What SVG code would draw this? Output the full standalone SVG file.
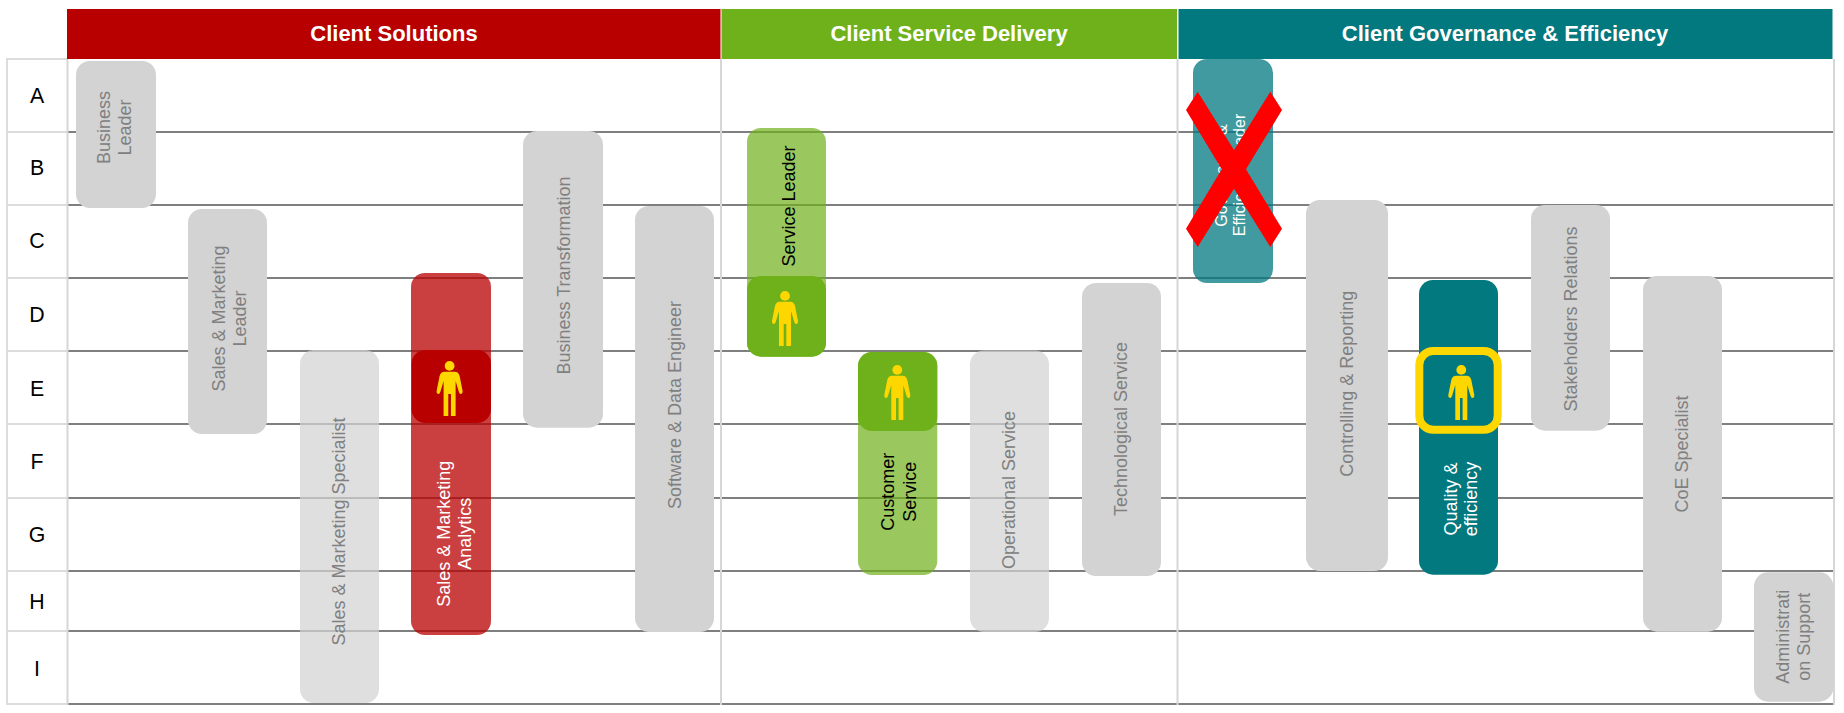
<svg xmlns="http://www.w3.org/2000/svg" width="1844" height="713" viewBox="0 0 1844 713">
<style>
text{font-family:"Liberation Sans",Arial,sans-serif}
.hd{font-size:22px;font-weight:bold;fill:#fff;text-anchor:middle}
.rl{font-size:21.3px;fill:#000;text-anchor:middle}
.t{font-size:18px;text-anchor:middle}
.g{fill:#808080}.w{fill:#fff}.k{fill:#000}
.cell{fill:none;stroke:#dcdcdc;stroke-width:2}
.h{stroke:#7f7f7f;stroke-width:2}
.v{stroke:#d6d6d6;stroke-width:2}
.gray{fill:#d3d3d3}
.pale{fill:#d3d3d3;opacity:.72}
.ic{fill:#ffd700}
</style>
<defs>
<g id="person"><circle cx="0" cy="4.9" r="4.9"/><path d="M-5,10.7H5Q9,10.7 10,15L13,30Q13.4,32.5 11.5,33Q10,33.3 9.3,31L6,20V55H1.3V33H-1.3V55H-6V20L-9.3,31Q-10,33.3 -11.5,33Q-13.4,32.5 -13,30L-10,15Q-9,10.7 -5,10.7Z"/></g>
</defs>
<rect width="1844" height="713" fill="#fff"/>
<g id="grid">
<path class="cell" d="M7,59H67M7,132H67M7,205H67M7,278H67M7,351H67M7,424H67M7,498H67M7,571H67M7,631H67M7,704H67M7,58V705"/>
<path class="h" d="M67,132H1834M67,205H1834M67,278H1834M67,351H1834M67,424H1834M67,498H1834M67,571H1834M67,631H1834M67,704H1834"/>
<path class="v" d="M67.5,58V705M721,59V705M1177.5,59V705M1834,59V705"/>
</g>
<g id="header-client-solutions"><rect x="67" y="9" width="653.5" height="50" fill="#b80000"/><text class="hd" x="394" y="41">Client Solutions</text></g>
<g id="header-client-service-delivery"><rect x="721.5" y="9" width="455.5" height="50" fill="#6fb11b"/><text class="hd" x="949" y="41">Client Service Delivery</text></g>
<g id="header-client-governance"><rect x="1178.5" y="9" width="654" height="50" fill="#02787f"/><text class="hd" x="1505" y="41">Client Governance &amp; Efficiency</text></g>
<g id="rows">
<text class="rl" x="37" y="103">A</text><text class="rl" x="37" y="175">B</text><text class="rl" x="37" y="248">C</text><text class="rl" x="37" y="322">D</text><text class="rl" x="37" y="396">E</text><text class="rl" x="37" y="469">F</text><text class="rl" x="37" y="542">G</text><text class="rl" x="37" y="609">H</text><text class="rl" x="37" y="676">I</text>
</g>
<g id="business-leader"><rect class="gray" x="76" y="61" width="80" height="147" rx="14"/><text class="t g" transform="translate(110,127.5) rotate(-90)">Business</text><text class="t g" transform="translate(131,127.5) rotate(-90)">Leader</text></g>
<g id="sales-marketing-leader"><rect class="gray" x="188" y="209" width="79" height="225" rx="14"/><text class="t g" transform="translate(225.4,318.5) rotate(-90)">Sales &amp; Marketing</text><text class="t g" transform="translate(246,318.5) rotate(-90)">Leader</text></g>
<g id="sales-marketing-specialist"><rect class="pale" x="300" y="350" width="79" height="353" rx="14"/><text class="t g" transform="translate(345,531.5) rotate(-90)">Sales &amp; Marketing Specialist</text></g>
<g id="sales-marketing-analytics"><rect x="411" y="273" width="80" height="362" rx="14" fill="#b80000" opacity=".75"/><rect x="411.5" y="350" width="79.5" height="73" rx="14" fill="#b80000"/><use href="#person" class="ic" transform="translate(449.6,361)"/><text class="t w" transform="translate(450,533.7) rotate(-90)">Sales &amp; Marketing</text><text class="t w" transform="translate(471,533.7) rotate(-90)">Analytics</text></g>
<g id="business-transformation"><rect class="gray" x="523" y="131" width="80" height="296.7" rx="14"/><text class="t g" transform="translate(570,275.5) rotate(-90)">Business Transformation</text></g>
<g id="software-data-engineer"><rect class="gray" x="635" y="206" width="79" height="426" rx="14"/><text class="t g" transform="translate(680.5,405) rotate(-90)">Software &amp; Data Engineer</text></g>
<g id="service-leader"><rect x="747" y="128" width="79" height="228.7" rx="14" fill="#6fb11b" opacity=".7"/><rect x="747" y="276" width="79" height="80.7" rx="14" fill="#6fb11b"/><use href="#person" class="ic" transform="translate(785,291)"/><text class="t k" transform="translate(794.5,206) rotate(-90)">Service Leader</text></g>
<g id="customer-service"><rect x="858" y="352" width="79.3" height="223" rx="14" fill="#6fb11b" opacity=".7"/><rect x="858" y="352" width="79.3" height="79" rx="14" fill="#6fb11b"/><use href="#person" class="ic" transform="translate(897.3,365)"/><text class="t k" transform="translate(894.3,491.7) rotate(-90)">Customer</text><text class="t k" transform="translate(916.3,491.7) rotate(-90)">Service</text></g>
<g id="operational-service"><rect class="pale" x="970" y="350.5" width="79" height="281.5" rx="14"/><text class="t g" transform="translate(1015,490) rotate(-90)">Operational Service</text></g>
<g id="technological-service"><rect class="gray" x="1082" y="283" width="79" height="293" rx="14"/><text class="t g" transform="translate(1127.3,429) rotate(-90)">Technological Service</text></g>
<g id="governance-efficiency-leader"><rect x="1193" y="59" width="80" height="224" rx="14" fill="#02787f" opacity=".75"/><text class="w" font-size="16" text-anchor="middle" transform="translate(1226.5,175.5) rotate(-90)">Governance &amp;</text><text class="w" font-size="16" text-anchor="middle" transform="translate(1245,175) rotate(-90)">Efficiency Leader</text><polygon points="1197.7,91.7 1186,110 1221.7,169.3 1186,228.7 1197.7,247 1234,188.7 1270.3,247 1282,228.7 1246,169.3 1282,110 1270.3,91.7 1234,150" fill="#f00"/></g>
<g id="controlling-reporting"><rect class="gray" x="1306" y="200" width="82" height="371" rx="14"/><text class="t g" transform="translate(1352.7,383.8) rotate(-90)">Controlling &amp; Reporting</text></g>
<g id="quality-efficiency"><rect x="1419" y="280" width="79" height="294.7" rx="14" fill="#02787f"/><rect x="1419.3" y="351" width="78.4" height="78.7" rx="14" fill="#02787f" stroke="#ffd700" stroke-width="8"/><use href="#person" class="ic" transform="translate(1461.3,365)"/><text class="t w" transform="translate(1456.7,499) rotate(-90)">Quality &amp;</text><text class="t w" transform="translate(1477,499) rotate(-90)">efficiency</text></g>
<g id="stakeholders-relations"><rect class="gray" x="1531" y="205" width="79" height="225.7" rx="14"/><text class="t g" transform="translate(1576.7,319) rotate(-90)">Stakeholders Relations</text></g>
<g id="coe-specialist"><rect class="gray" x="1643" y="276" width="79" height="355.7" rx="14"/><text class="t g" transform="translate(1688,454) rotate(-90)">CoE Specialist</text></g>
<g id="administration-support"><rect class="gray" x="1754" y="572.3" width="79.3" height="129.4" rx="14"/><text class="t g" transform="translate(1789,636.7) rotate(-90)">Administrati</text><text class="t g" transform="translate(1810,636.7) rotate(-90)">on Support</text></g>
<g id="connectors"/>
</svg>
